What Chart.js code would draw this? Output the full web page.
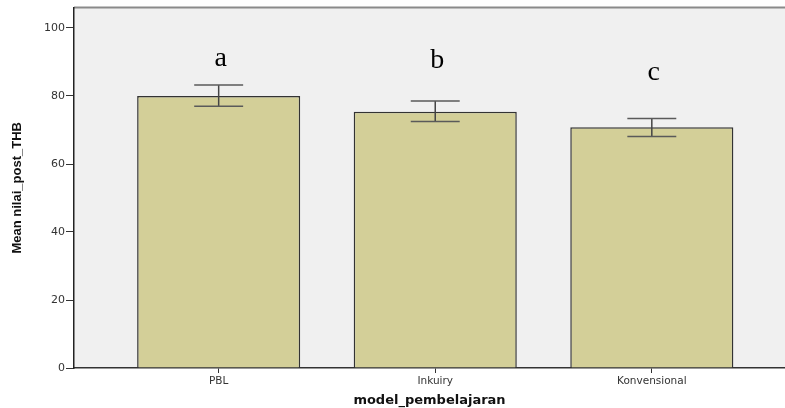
<!DOCTYPE html>
<html>
<head>
<meta charset="utf-8">
<script src="https://cdn.jsdelivr.net/npm/chart.js@4"></script>
<style>
  body { margin: 0; background: #fff; }
  #wrap { width: 785px; height: 408px; }
</style>
</head>
<body>
<div id="wrap"><canvas id="myChart"></canvas></div>
<script>
// data
const categories = ['PBL', 'Inkuiry', 'Konvensional'];
const means = [80.0, 75.4, 70.8];
const errUpper = [83.2, 78.5, 73.4];
const errLower = [77.0, 72.5, 68.1];
const letters = ['a', 'b', 'c'];
const letterY = [88.7, 88.1, 84.8];
const yTicks = [0, 20, 40, 60, 80, 100];

// plot background + top frame line
const plotBg = {
  id: 'plotBg',
  beforeDraw(chart) {
    const { ctx, chartArea: a } = chart;
    ctx.save();
    ctx.fillStyle = '#f0f0f0';
    ctx.fillRect(a.left, a.top, a.right - a.left, a.bottom - a.top);
    ctx.strokeStyle = '#8a8a8a';
    ctx.lineWidth = 2;
    ctx.beginPath();
    ctx.moveTo(a.left, a.top);
    ctx.lineTo(a.right, a.top);
    ctx.stroke();
    ctx.restore();
  }
};

// error bars and the a/b/c letters
const extras = {
  id: 'extras',
  afterDatasetsDraw(chart) {
    const { ctx, scales } = chart;
    const x = scales.x, y = scales.y;
    const capHalf = x.getPixelForValue(1.113) - x.getPixelForValue(1);
    ctx.save();
    categories.forEach((c, i) => {
      const px = x.getPixelForValue(i + 1);
      const top = y.getPixelForValue(errUpper[i]);
      const bot = y.getPixelForValue(errLower[i]);
      ctx.lineWidth = 1.5;
      ctx.strokeStyle = '#444';
      ctx.beginPath();
      ctx.moveTo(px, top);
      ctx.lineTo(px, bot);
      ctx.stroke();
      ctx.strokeStyle = '#5a5a5a';
      ctx.beginPath();
      ctx.moveTo(px - capHalf, top);
      ctx.lineTo(px + capHalf, top);
      ctx.moveTo(px - capHalf, bot);
      ctx.lineTo(px + capHalf, bot);
      ctx.stroke();

      ctx.fillStyle = '#000';
      ctx.font = '28px "Liberation Serif", serif';
      ctx.textAlign = 'center';
      ctx.textBaseline = 'alphabetic';
      ctx.fillText(letters[i], px + 2, y.getPixelForValue(letterY[i]));
    });
    ctx.restore();
  }
};

const ctx = document.getElementById('myChart').getContext('2d');
const chart = new Chart(ctx, {
  type: 'bar',
  data: {
    datasets: [{
      data: means.map((m, i) => ({ x: i + 1, y: m })),
      backgroundColor: '#d3cf98',
      borderColor: '#333',
      borderWidth: 1.5,
      categoryPercentage: 1,
      barPercentage: 0.753
    }]
  },
  options: {
    responsive: true,
    maintainAspectRatio: false,
    animation: false,
    layout: { padding: { top: 7, right: 0, left: 0, bottom: 0 } },
    plugins: {
      legend: { display: false },
      tooltip: { enabled: false }
    },
    scales: {
      x: {
        type: 'linear',
        offset: false,
        min: 0.332,
        max: 3.615,
        afterBuildTicks: (s) => { s.ticks = categories.map((c, i) => ({ value: i + 1 })); },
        afterFit: (s) => { s.height = 40; },
        grid: { offset: false, drawOnChartArea: false, drawTicks: true, tickLength: 5, color: '#333' },
        border: { color: '#333', width: 1.5 },
        ticks: {
          callback: (v) => categories[v - 1],
          color: '#333',
          font: { family: '"DejaVu Sans", sans-serif', size: 10.5 },
          padding: 2,
          maxRotation: 0,
          autoSkip: false
        },
        title: {
          display: true,
          text: 'model_pembelajaran',
          color: '#111',
          font: { family: '"DejaVu Sans", sans-serif', size: 13, weight: 'bold' },
          padding: { top: 0, bottom: 0 }
        }
      },
      y: {
        min: 0,
        max: 106,
        afterBuildTicks: (s) => { s.ticks = yTicks.map(v => ({ value: v })); },
        afterFit: (s) => { s.width = 74; },
        grid: { drawOnChartArea: false, drawTicks: true, tickLength: 8, color: '#333' },
        border: { color: '#222', width: 1.5 },
        ticks: {
          color: '#333',
          font: { family: '"DejaVu Sans", sans-serif', size: 11 },
          padding: 1
        },
        title: {
          display: true,
          text: 'Mean nilai_post_THB',
          color: '#111',
          font: { family: '"Liberation Sans Narrow", "Liberation Sans", Arial, sans-serif', size: 13, weight: 'bold' },
          padding: { top: 10, bottom: 0 }
        }
      }
    }
  },
  plugins: [plotBg, extras]
});
</script>
</body>
</html>
